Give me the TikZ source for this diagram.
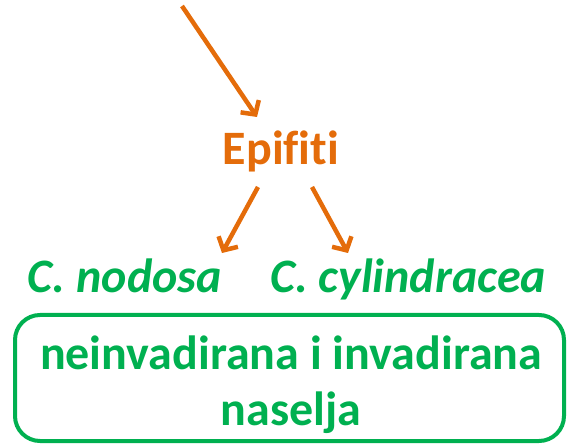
\documentclass[tikz,border=0pt]{standalone}
\usepackage{fontspec}
\setmainfont[Ligatures=NoCommon]{Carlito}
\usetikzlibrary{arrows.meta}
\definecolor{orangeT}{HTML}{E46C0A}
\definecolor{greenT}{HTML}{00B050}
\tikzset{
  arr/.style={draw=orangeT, line width=4.5pt, -{Straight Barb[length=10pt,width=22pt,line width=4.5pt]}},
  lbl/.style={font=\fontsize{48}{55}\selectfont\bfseries, inner sep=0pt},
  lbli/.style={font=\fontsize{48}{55}\selectfont\bfseries\itshape, inner sep=0pt},
}
\begin{document}
\begin{tikzpicture}[x=1pt,y=-1pt]
\useasboundingbox (0,0) rectangle (568,446);
\coordinate (s) at (182,6);
\node[lbl, text=orangeT, anchor=base] (epi) at (281,165) {Epifiti};
\node[lbli, text=greenT, anchor=base] (nod) at (125,293) {C. nodosa};
\node[lbli, text=greenT, anchor=base] (cyl) at (408,293) {C. cylindracea};
\node[draw=greenT, line width=4pt, rounded corners=25pt, minimum width=549pt, minimum height=126pt, inner sep=0pt] (box) at (289.5,378) {};
\node[lbl, text=greenT, anchor=base] (boxa) at (291,370) {neinvadirana i invadirana};
\node[lbl, text=greenT, anchor=base] (boxb) at (291,425) {naselja};
\coordinate (e1) at (257,117);
\coordinate (l0) at (258,187);
\coordinate (l1) at (222,253);
\coordinate (r0) at (312,187);
\coordinate (r1) at (348,253);
\draw[arr] (s) -- (e1);
\draw[arr] (l0) -- (l1);
\draw[arr] (r0) -- (r1);
\end{tikzpicture}
\end{document}
